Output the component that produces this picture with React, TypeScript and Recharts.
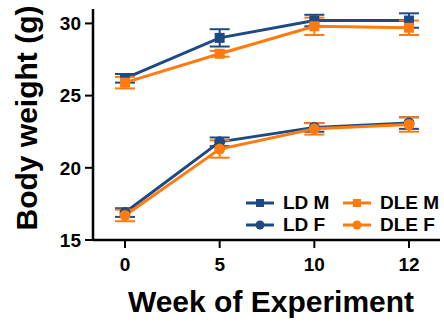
import { LineChart, Line, XAxis, YAxis, ErrorBar } from 'recharts';

const weeks = ['0', '5', '10', '12'];
const ldM = [26.2, 29.0, 30.2, 30.2];
const ldMErr = [0.3, 0.6, 0.4, 0.5];
const dleM = [25.9, 27.9, 29.8, 29.7];
const dleMErr = [0.4, 0.2, 0.6, 0.5];
const ldF = [16.9, 21.8, 22.8, 23.1];
const ldFErr = [0.3, 0.3, 0.3, 0.4];
const dleF = [16.7, 21.3, 22.7, 23.0];
const dleFErr = [0.4, 0.6, 0.4, 0.5];
const yTicks = [15, 20, 25, 30];

const BLUE = '#1d4a85';
const ORANGE = '#ff7b0f';
const FONT = "'Liberation Sans', Arial, sans-serif";

const data = weeks.map((w, i) => ({
  week: w,
  ldM: ldM[i], ldMErr: ldMErr[i],
  dleM: dleM[i], dleMErr: dleMErr[i],
  ldF: ldF[i], ldFErr: ldFErr[i],
  dleF: dleF[i], dleFErr: dleFErr[i],
}));

const squareDot = (color: string) => (p: any) => (
  <rect key={`sq-${p.dataKey}-${p.index}`} x={p.cx - 5} y={p.cy - 5} width={10} height={10} fill={color} />
);
const circleDot = (color: string) => (p: any) => (
  <circle key={`ci-${p.dataKey}-${p.index}`} cx={p.cx} cy={p.cy} r={5.5} fill={color} />
);

const legendItems = [
  { name: 'LD M', color: BLUE, shape: 'square' },
  { name: 'DLE M', color: ORANGE, shape: 'square' },
  { name: 'LD F', color: BLUE, shape: 'circle' },
  { name: 'DLE F', color: ORANGE, shape: 'circle' },
];

// legend sits inside the plot, lower right, two columns
function LegendBox() {
  return (
    <div style={{ position: 'absolute', left: 246, top: 193, display: 'grid', gridTemplateColumns: '97px 100px', rowGap: 2, fontFamily: FONT, fontWeight: 700, fontSize: 19, color: '#000', lineHeight: '20px' }}>
      {legendItems.map((it) => (
        <div key={it.name} style={{ display: 'flex', alignItems: 'center', height: 20 }}>
          <svg width={28} height={12} style={{ marginRight: 9 }}>
            <line x1={0} y1={6} x2={28} y2={6} stroke={it.color} strokeWidth={3} />
            {it.shape === 'square'
              ? <rect x={10} y={2} width={8} height={8} fill={it.color} />
              : <circle cx={14} cy={6} r={4.5} fill={it.color} />}
          </svg>
          <span>{it.name}</span>
        </div>
      ))}
    </div>
  );
}

const tickStyle = { fill: '#000', fontSize: 19, fontWeight: 700, fontFamily: FONT };

export default function App() {
  return (
    <div style={{ position: 'absolute', left: 0, top: 0, width: 444, height: 329, background: '#fff' }}>
      <LineChart width={444} height={329} data={data} margin={{ top: 9, right: 4, left: 0, bottom: 0 }}>
        <XAxis
          dataKey="week"
          height={89}
          padding={{ left: 32, right: 31 }}
          axisLine={{ stroke: '#000', strokeWidth: 2.5 }}
          tickLine={{ stroke: '#000', strokeWidth: 2 }}
          tickSize={8}
          tickMargin={10}
          tick={tickStyle}
          label={{
            content: () => (
              <text x={271} y={312} textAnchor="middle" fontFamily={FONT} fontWeight={700} fontSize={30} fill="#000">
                Week of Experiment
              </text>
            ),
          }}
        />
        <YAxis
          width={93}
          domain={[15, 31]}
          ticks={yTicks}
          axisLine={{ stroke: '#000', strokeWidth: 2.5 }}
          tickLine={{ stroke: '#000', strokeWidth: 2 }}
          tickSize={8}
          tickMargin={4}
          tick={tickStyle}
          label={{
            content: () => (
              <text x={37} y={118} transform="rotate(-90 37 118)" textAnchor="middle" fontFamily={FONT} fontWeight={700} fontSize={30} fill="#000">
                Body weight (g)
              </text>
            ),
          }}
        />
        <Line dataKey="ldM" name="LD M" stroke={BLUE} strokeWidth={3} dot={squareDot(BLUE)} isAnimationActive={false}>
          <ErrorBar dataKey="ldMErr" width={10} strokeWidth={2} stroke={BLUE} direction="y" />
        </Line>
        <Line dataKey="ldF" name="LD F" stroke={BLUE} strokeWidth={3} dot={circleDot(BLUE)} isAnimationActive={false}>
          <ErrorBar dataKey="ldFErr" width={10} strokeWidth={2} stroke={BLUE} direction="y" />
        </Line>
        <Line dataKey="dleM" name="DLE M" stroke={ORANGE} strokeWidth={3} dot={squareDot(ORANGE)} isAnimationActive={false}>
          <ErrorBar dataKey="dleMErr" width={10} strokeWidth={2} stroke={ORANGE} direction="y" />
        </Line>
        <Line dataKey="dleF" name="DLE F" stroke={ORANGE} strokeWidth={3} dot={circleDot(ORANGE)} isAnimationActive={false}>
          <ErrorBar dataKey="dleFErr" width={10} strokeWidth={2} stroke={ORANGE} direction="y" />
        </Line>
      </LineChart>
      <LegendBox />
    </div>
  );
}
